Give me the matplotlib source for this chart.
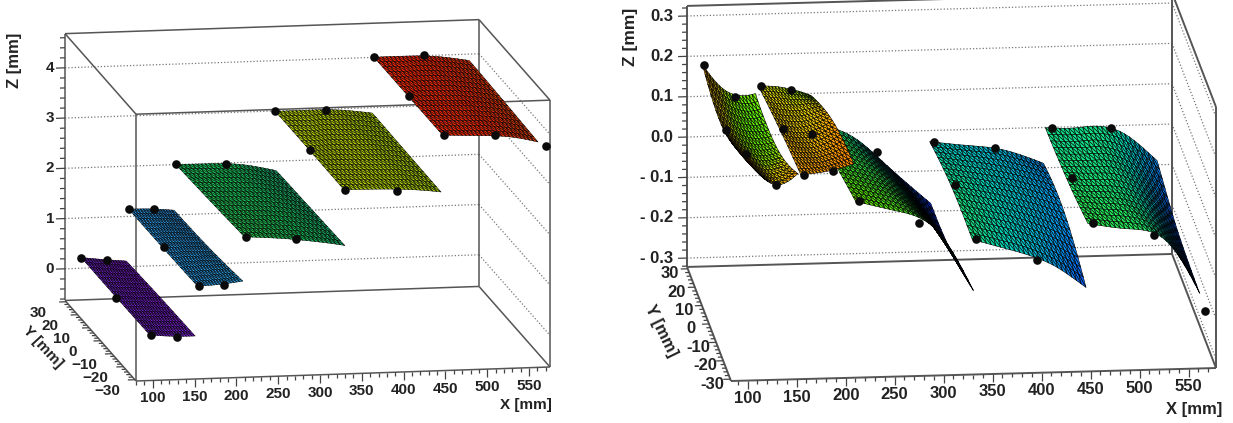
import numpy as np
import matplotlib
matplotlib.use("Agg")
import matplotlib.pyplot as plt
from matplotlib.colors import LinearSegmentedColormap
from matplotlib.tri import Triangulation, UniformTriRefiner
from mpl_toolkits.mplot3d import proj3d
from mpl_toolkits.mplot3d.art3d import Line3DCollection

plt.rcParams['font.family'] = ['Liberation Sans', 'DejaVu Sans']

W, H = 1233, 423

# ---------- values (mm) ----------
y_rows = [-30, 0, 30]

x_edges = [[98, 125, 152],
           [155, 182, 209],
           [211, 251, 291, 331],
           [330, 369, 408, 446],
           [448, 486, 524, 562]]

# left panel: height of each module at (y_rows, x_edges)
left_z = [
    [[.25, .21, .20], [.24, .21, .18], [.24, .185, .14]],
    [[1.19, 1.21, 1.26], [1.17, 1.18, 1.16], [1.17, 1.16, 1.12]],
    [[2.14, 2.09, 2.01, 1.90], [2.08, 2.05, 2.00, 1.87], [2.03, 2.02, 1.98, 1.84]],
    [[3.01, 3.00, 2.97, 2.90], [3.02, 3.01, 2.99, 2.91], [3.02, 3.02, 3.00, 2.92]],
    [[4.03, 4.00, 3.96, 3.83], [4.03, 4.02, 3.98, 3.87], [4.03, 4.03, 4.00, 3.90]],
]
left_mx = [98, 129, 99, 99, 130, 155, 185, 156, 157, 187, 211, 271, 213, 273,
           330, 391, 331, 331, 393, 448, 508, 449, 450, 511, 572]
left_my = [30, 30, 0, -30, -30, 30, 30, 0, -30, -30, 30, 30, -30, -30,
           30, 30, 0, -30, -30, 30, 30, 0, -30, -30, -30]
left_mz = [.24, .165, .21, .25, .19, 1.17, 1.15, 1.19, 1.19, 1.20, 2.03, 2.00, 2.14, 2.06,
           3.02, 3.01, 3.02, 3.01, 2.95, 4.03, 4.03, 4.03, 4.03, 4.00, 3.75]

# right panel: residual height of each module at (y_rows, x_edges)
right_z = [
    [[.235, .16, .183], [.158, .11, .111], [.183, .112, .108]],
    [[.18, .187, .204], [.157, .147, .174], [.127, .12, .099]],
    [[.11, .085, .04, -.118], [.07, .04, -.03, -.163], [.03, -.005, -.09, -.176]],
    [[.008, -.02, -.055, -.118], [.005, -.015, -.04, -.072], [-.023, -.035, -.05, -.084]],
    [[.04, .025, .0, -.14], [.015, .01, -.02, -.128], [.004, .003, -.01, -.085]],
]
right_mx = [100, 131, 100, 99, 130, 158, 188, 158, 188, 158, 188, 276, 214, 276,
            334, 397, 334, 334, 396, 455, 515, 453, 453, 515, 568]
right_my = [30, 30, 0, -30, -30, 30, 30, 0, 0, -30, -30, 30, -30, -30,
            30, 30, 0, -30, -30, 30, 30, 0, -30, -30, -30]
right_mz = [.183, .101, .158, .235, .157, .127, .115, .157, .143, .18, .188, -.044, .11, .053,
            -.023, -.042, .005, .008, -.048, .004, -.002, .015, .04, .006, -.185]

x_ticks = list(range(100, 551, 50))
y_ticks = [-30, -20, -10, 0, 10, 20, 30]
left_zticks = [0, 1, 2, 3, 4]
left_zlabels = ['0', '1', '2', '3', '4']
right_zticks = [-.3, -.2, -.1, 0, .1, .2, .3]
right_zlabels = ['- 0.3', '- 0.2', '- 0.1', '0.0', '0.1', '0.2', '0.3']
left_ylabels = ['\u221230', '\u221220', '\u221210', '0', '10', '20', '30']
right_ylabels = ['-30', '-20', '-10', '0', '10', '20', '30']

left_stops = [(0, '#a010ff'), (.15, '#8a18f0'), (.34, '#28a8ff'), (.5, '#14c858'),
              (.68, '#b4d800'), (.87, '#ff2800'), (1, '#ff0000')]
right_stops = [(0, '#0000b0'), (.19, '#0010d8'), (.31, '#0050f8'), (.40, '#00a0f0'),
               (.47, '#00d8c0'), (.53, '#20f060'), (.65, '#60f800'), (.68, '#a0f000'),
               (.70, '#f0e000'), (.76, '#ffb000'), (.85, '#ff6800'), (1, '#f00000')]

fig = plt.figure(figsize=(W / 100, H / 100), dpi=100)


def panel(view, aspect, xlim, ylim, zlim, origin, xspan, z_mod, mx, my, mz, stops,
          zticks, zlabels, ylabels, zminor, fs, zoff, yoff, full_box, lw, mesh_lw):
    ax = fig.add_axes([0, 0, 1, 1], projection='3d', computed_zorder=False, proj_type='ortho')
    ax.set_axis_off()
    ax.set_facecolor('none')
    ax.view_init(elev=view[0], azim=view[1], roll=0)
    cmap = LinearSegmentedColormap.from_list('root', stops)
    ppx = xspan / (xlim[1] - xlim[0])
    x0, x1, y0, y1, z0, z1 = *xlim, *ylim, *zlim

    # surfaces, far module first; one diagonal direction throughout the mesh
    for i in range(len(z_mod) - 1, -1, -1):
        gx, gy = np.meshgrid(x_edges[i], y_rows)
        nr, nc = gx.shape
        cells = []
        for r in range(nr - 1):
            for q in range(nc - 1):
                a = r * nc + q
                cells += [[a, a + 1, a + nc], [a + 1, a + nc + 1, a + nc]]
        tri = Triangulation(gx.ravel().astype(float), gy.ravel().astype(float), triangles=cells)
        fine, fz = UniformTriRefiner(tri).refine_field(np.array(z_mod[i]).ravel(), subdiv=3)
        s = ax.plot_trisurf(fine, fz, cmap=cmap, vmin=z0, vmax=z1, shade=False,
                            edgecolor='#000000', linewidth=mesh_lw, antialiased=True,
                            zorder=10 + (len(z_mod) - i))
        s.set_clip_on(False)

    ax.set_xlim(x0, x1, view_margin=0)
    ax.set_ylim(y0, y1, view_margin=0)
    ax.set_zlim(z0, z1, view_margin=0)
    ax.set_box_aspect(aspect)
    ax.apply_aspect()

    # size and place the square 3D axes so the box lands where the reference has it
    M = ax.get_proj()
    def frac(p):
        a, b, _ = proj3d.proj_transform(p[0], p[1], p[2], M)
        return ax.transLimits.transform((a, b))
    fO = frac((x0, y0, z0))
    fX = frac((x1, y0, z0))
    fZ = frac((x0, y0, z1))
    D = xspan / (fX[0] - fO[0])
    ppz = D * (fZ[1] - fO[1]) / (z1 - z0)
    left = origin[0] - D * fO[0]
    bottom = (H - origin[1]) - D * fO[1]
    ax.set_position([left / W, bottom / H, D / W, D / H])

    def label(p, dx, dy, s, ha):
        f = frac(p)
        fig.text((left + D * f[0] + dx) / W, (bottom + D * f[1] - dy) / H, s, ha=ha, va='center',
                 fontsize=fs, fontweight='bold', color='#222222')

    # box
    bl = [[(x0, y1, z0), (x1, y1, z0)], [(x0, y1, z1), (x1, y1, z1)],
          [(x0, y1, z0), (x0, y1, z1)], [(x1, y1, z0), (x1, y1, z1)],
          [(x0, y0, z0), (x1, y0, z0)], [(x1, y0, z0), (x1, y0, z1)],
          [(x1, y1, z0), (x1, y0, z0)], [(x1, y1, z1), (x1, y0, z1)],
          [(x0, y1, z0), (x0, y0, z0)]]
    if full_box:
        bl += [[(x0, y1, z1), (x0, y0, z1)], [(x0, y0, z0), (x0, y0, z1)], [(x0, y0, z1), (x1, y0, z1)]]
    c = Line3DCollection(bl, colors='#555555', linewidths=lw, zorder=3)
    c.set_clip_on(False)
    ax.add_collection3d(c, autolim=False)

    # dotted grid on the back and side walls
    gl = []
    for t in zticks:
        gl.append([(x0, y1, t), (x1, y1, t)])
        gl.append([(x1, y1, t), (x1, y0, t)])
    c = Line3DCollection(gl, colors='#777777', linewidths=.9, linestyles=(0, (1, 1.6)), zorder=2)
    c.set_clip_on(False)
    ax.add_collection3d(c, autolim=False)

    # ticks
    tk = []
    for t in np.arange(zticks[0] - 4 * zminor, z1 + 1e-9, zminor):
        if t < z0:
            continue
        L = 9 if min(abs(t - v) for v in zticks) < zminor / 4 else 5
        tk.append([(x0, y1, t), (x0 - L / ppx, y1, t)])
    for t in range(int(np.ceil(x0 / 10) * 10), int(x1) + 1, 10):
        L = 8 if t % 50 == 0 else 4
        tk.append([(t, y0, z0), (t, y0, z0 - L / ppz)])
    for t in range(-30, 31, 2):
        L = 7 if t % 10 == 0 else 4
        tk.append([(x0, t, z0), (x0 - L / ppx, t, z0)])
    c = Line3DCollection(tk, colors='#444444', linewidths=.9, zorder=3)
    c.set_clip_on(False)
    ax.add_collection3d(c, autolim=False)

    # markers
    ax.plot(mx, my, mz, 'o', color='#0a0a0a', ms=6.2, mew=0, zorder=40, clip_on=False)

    # tick labels
    for t in x_ticks:
        label((t, y0, z0), 0, 18, str(t), 'center')
    for t, s in zip(zticks, zlabels):
        label((x0, y1, t), -zoff, 0, s, 'right')
    for t, s in zip(y_ticks, ylabels):
        label((x0, t, z0), yoff[0], yoff[1], s, 'center')
    return ax


panel((11.3, -99.8), (420, 417, 272), (80, 575), (-31, 31), (-.63, 4.68),
      (136, 381), 414, left_z, left_mx, left_my, left_mz, left_stops,
      left_zticks, left_zlabels, left_ylabels, .2, 11, 11, (-28, 11), True, 1.1, .35)

panel((15.28, -95.8), (487.5, 435, 270.6), (83, 578), (-31, 31), (-.322, .325),
      (731, 381), 485, right_z, right_mx, right_my, right_mz, right_stops,
      right_zticks, right_zlabels, right_ylabels, .02, 12, 14, (-18, 5), False, 1.4, .42)


def title(px, py, s, rot, fs):
    fig.text(px / W, 1 - py / H, s, rotation=rot, ha='center', va='center',
             fontsize=fs, fontweight='bold', color='#222222')


title(14.5, 60, 'Z [mm]', 90, 12)
title(43, 347, 'Y [mm]', -47, 11)
title(526, 405, 'X [mm]', 0, 11)
title(631, 37, 'Z [mm]', 90, 12.5)
title(661, 331, 'Y [mm]', -64, 12)
title(1194, 409, 'X [mm]', 0, 12)

fig.savefig('out.png', dpi=100)
